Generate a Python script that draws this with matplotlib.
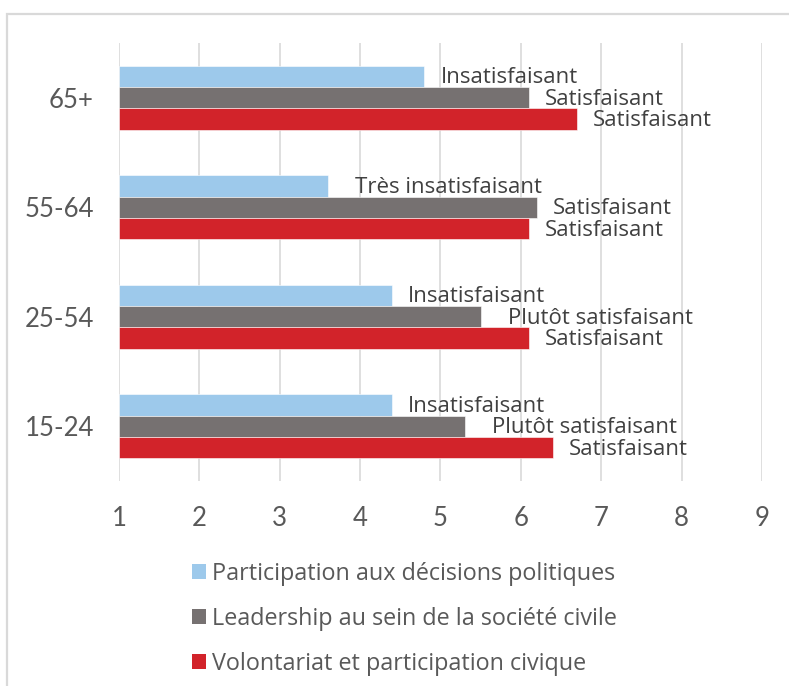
import numpy as np
import matplotlib.pyplot as plt
from matplotlib.patches import Patch, Rectangle

plt.rcParams['font.family'] = ['Lato', 'DejaVu Sans']
label_font = ['Open Sans', 'DejaVu Sans']

# data
categories = ['15-24', '25-54', '55-64', '65+']
series_names = ['Participation aux décisions politiques',
                'Leadership au sein de la société civile',
                'Volontariat et participation civique']
colors = ['#9DC9EB', '#767171', '#D2232A']

participation = [4.4, 4.4, 3.6, 4.8]
leadership = [5.3, 5.5, 6.2, 6.1]
volontariat = [6.4, 6.1, 6.1, 6.7]

lab_participation = ['Insatisfaisant', 'Insatisfaisant', 'Très insatisfaisant', 'Insatisfaisant']
lab_leadership = ['Plutôt satisfaisant', 'Plutôt satisfaisant', 'Satisfaisant', 'Satisfaisant']
lab_volontariat = ['Satisfaisant', 'Satisfaisant', 'Satisfaisant', 'Satisfaisant']

xticks = [1, 2, 3, 4, 5, 6, 7, 8, 9]

values = [participation, leadership, volontariat]
labels = [lab_participation, lab_leadership, lab_volontariat]

fig = plt.figure(figsize=(7.89, 6.86), dpi=100)
ax = fig.add_axes([0.1508, 0.2988, 0.815, 0.6385])

# outer frame (cropped on right and bottom)
fig.patches.append(Rectangle((7 / 789, -0.05), 1.1, 1 - 14 / 686 + 0.05,
                             transform=fig.transFigure, fill=False,
                             edgecolor='#D9D9D9', linewidth=1.6))

y = np.arange(len(categories))
h = 0.195
for i, (vals, labs, c) in enumerate(zip(values, labels, colors)):
    pos = y + (1 - i) * h
    ax.barh(pos, np.array(vals) - 1, left=1, height=h, color=c,
            edgecolor='white', linewidth=0.4, zorder=2)
    for p, v, lab in zip(pos, vals, labs):
        off = 16 if len(lab) < 15 else 27
        ax.annotate(lab, (v, p), xytext=(off * 0.72, -1.0), textcoords='offset points',
                    ha='left', va='center', fontsize=16, color='#404040',
                    family=label_font, zorder=3)

ax.set_xlim(1, 9)
ax.set_ylim(-0.5, 3.5)
ax.set_xticks(xticks)
ax.set_yticks(y)
ax.set_yticklabels(categories)
ax.grid(axis='x', color='#D9D9D9', linewidth=1.2, zorder=0)
ax.tick_params(length=0, labelsize=18.5, labelcolor='#595959')
ax.tick_params(axis='x', pad=18)
ax.tick_params(axis='y', pad=18)
for s in ax.spines.values():
    s.set_visible(False)

handles = [Patch(facecolor=c, edgecolor='none') for c in colors]
fig.legend(handles, series_names, loc='upper left', bbox_to_anchor=(192 / 789, 1 - 562 / 686),
           frameon=False, prop={'family': label_font, 'size': 16.8}, labelcolor='#595959',
           handlelength=0.6, handleheight=0.6, handletextpad=0.25, labelspacing=0.89,
           borderaxespad=0, borderpad=0)

fig.savefig('out.png', dpi=100)
